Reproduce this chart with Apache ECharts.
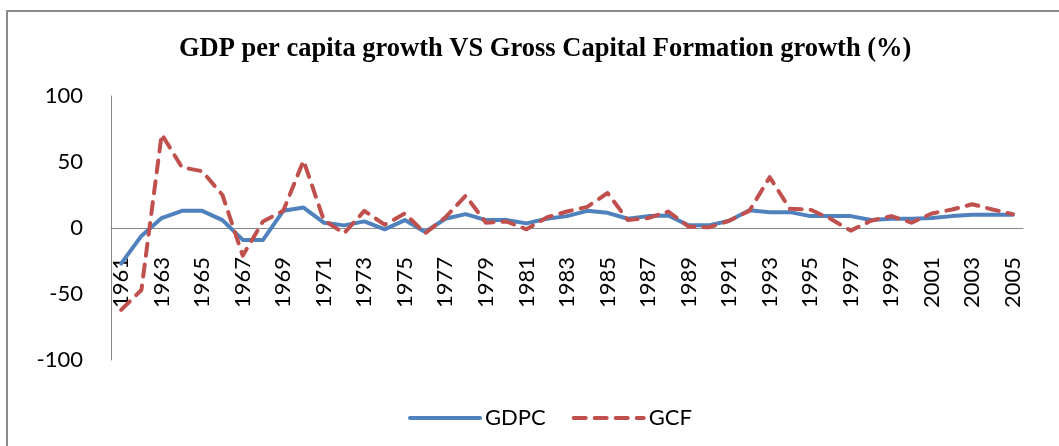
<!DOCTYPE html>
<html>
<head>
<meta charset="utf-8">
<script src="https://cdn.jsdelivr.net/npm/echarts@6/dist/echarts.min.js"></script>
<style>
  html, body { margin: 0; padding: 0; background: #fff; }
  #chart { width: 1059px; height: 446px; }
</style>
</head>
<body>
<div id="chart"></div>
<script>
var years = [];
for (var y = 1961; y <= 2005; y++) {
    years.push(String(y));
}

// GDP per capita growth (%)
var gdpc = [-27, -6, 7.5, 13, 13, 6, -9, -9, 13, 15.5,
    4, 2, 5, -1, 6, -3, 7, 10.5, 6, 6,
    3.5, 7, 9, 13, 11.5, 7, 9, 9.5, 2, 2,
    5.5, 13.5, 12, 12, 9, 9, 9, 6, 7, 7,
    7.5, 9, 10, 10, 10];

// Gross capital formation growth (%)
var gcf = [-62, -47, 71, 46, 43, 25, -21, 5, 13, 51,
    6, -4, 13, 2.5, 11, -4, 8, 24.5, 4, 5,
    -1, 8, 12.5, 16, 26.5, 6, 7.5, 12.5, 1, 0.5,
    5.5, 13, 38.5, 14.5, 14, 7, -2, 5.5, 9, 4,
    11, 14, 18, 14, 10.5];

var yMin = -100, yMax = 100, yStep = 50;

var chart = echarts.init(document.getElementById('chart'));

chart.setOption({
    animation: false,
    backgroundColor: '#fff',
    title: {
        text: 'GDP per capita growth VS Gross Capital Formation growth (%)',
        left: 174,
        top: 31,
        textStyle: {
            fontFamily: 'Liberation Serif',
            fontWeight: 'bold',
            fontSize: 26.5,
            color: '#000'
        }
    },
    graphic: [{
        type: 'rect',
        shape: {x: 7, y: 11, width: 1070, height: 460},
        style: {fill: 'none', stroke: '#8c8c8c', lineWidth: 2},
        silent: true
    }],
    legend: {
        bottom: 12,
        left: 403,
        itemWidth: 70,
        itemHeight: 14,
        itemGap: 26,
        itemStyle: {color: 'rgba(0,0,0,0)', borderWidth: 0},
        lineStyle: {width: 4, cap: 'round'},
        textStyle: {fontFamily: 'Lato', fontSize: 22, color: '#000'},
        data: ['GDPC', 'GCF']
    },
    grid: {
        left: 111,
        right: 36,
        top: 96,
        bottom: 86
    },
    xAxis: {
        type: 'category',
        data: years,
        boundaryGap: true,
        axisLine: {onZero: true, lineStyle: {color: '#888', width: 1}},
        axisTick: {show: false},
        axisLabel: {
            interval: 1,
            rotate: 90,
            // labels sit just under the zero line, as in the original
            margin: -103,
            fontFamily: 'Lato',
            fontSize: 22,
            color: '#000'
        }
    },
    yAxis: {
        type: 'value',
        min: yMin,
        max: yMax,
        interval: yStep,
        splitLine: {show: false},
        axisLine: {show: true, lineStyle: {color: '#888', width: 1}},
        axisTick: {show: false},
        axisLabel: {
            margin: 28,
            fontFamily: 'Lato',
            fontSize: 22,
            color: '#000'
        }
    },
    series: [{
        name: 'GDPC',
        type: 'line',
        data: gdpc,
        symbol: 'none',
        itemStyle: {color: '#4F81BD'},
        lineStyle: {color: '#4F81BD', width: 4, cap: 'round', join: 'round'}
    }, {
        name: 'GCF',
        type: 'line',
        data: gcf,
        symbol: 'none',
        itemStyle: {color: '#C0504D'},
        lineStyle: {color: '#C0504D', width: 4, type: [12, 9], cap: 'round', join: 'round'}
    }]
});
</script>
</body>
</html>
